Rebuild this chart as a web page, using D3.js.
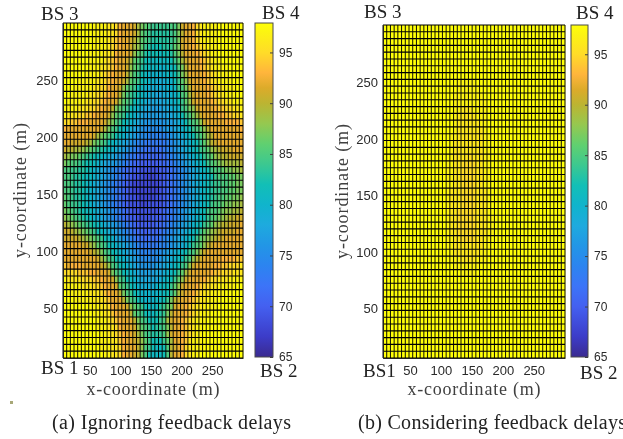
<!DOCTYPE html>
<html><head><meta charset="utf-8">
<script src="https://cdnjs.cloudflare.com/ajax/libs/d3/7.8.5/d3.min.js"></script>
<style>html,body{margin:0;padding:0;background:#fff}svg{display:block;filter:blur(0.3px)}</style>
</head><body><svg id="c" width="623" height="439"></svg>
<script>
// Cell values: each char is a base-36 offset above 65 (x = 98, r = 92, f = 80, 5 = 70)
const gridA = [
"xxxxxxx xwwwwvv usrrrqo mlkjjjj jkkmqrr suvwwww xxxxxxx",
"xxxxxxx xwwwwvv usrrrqo lkjiiii ijkmprr suvwwww xxxxxxx",
"xxxxxxx xwwwwvu tsrrqpn lkjiiii ijkmqrr suvwwww xxxxxxx",
"xxxxxxx xwwwwvu tsrrqon ljihhhi ijlmqrr stuvwww xxxxxxx",
"xxxxxxx wwwwvvu srrrqnl kihhhgh hikmprr rstuvww xxxxxxx",
"xxxxxxx wwwwvut srrqolk jhggggg ghjloqr rrstuvw wxxxxxx",
"xxxxxxx wwwvvut srrqnlk ihgggff gghkmpr rrstuvw wwxxxxx",
"xxxxxxw wwwvuts rrrpmkj hgfffff gghjmor rrrstuv wwwxxxx",
"xxxxwww wwvvuts rrqolkj hgffeee ffhjlnq rrrstuv wwwwxxx",
"xxxwwww wvvuusr rqnlkjh gfeeeee ffgjkmp rrrrstu vvwwwxx",
"xxwwwww vvuutsr rpmkjih gfeedde effhklo qrrrstu vvwwwxx",
"xwwwwwv vuutsrr qnlkjhg feddddd effhjln qrrrrst uuvvwww",
"wwwwvvv uutsrrp mlkjhgf eddcccd deffjkm nqrrrrs ttuuvvw",
"wvvvuut tsrrrqn lkjhgfe dcccccc ddefhjk moqrrrr ssttuuv",
"uuttsss rrrrqom kjhgfed cbbbbbb ccdefhj klnqrrr rrsssst",
"srrrrrr rrrqomk jhgfedc baaaaab ccdefgh jklnprr rrrrrrs",
"rrrrrrr rqomlkj hgfedcb aa99999 abcdefg hjkmopr rrrrrrr",
"rrqqqqp omlkjhg fedcba9 9888888 9abcdef ghjlnpq rrrrrrr",
"qppoonm lkjihgf edcba98 8777778 9abcdef ghjklno pqqqrrr",
"onmmlkj ihggfed cba9887 6666667 89abcde fghjkln oppqqqq",
"mlkkjih hgfedcc ba98766 5555566 789abcd efghjkl mnoooop",
"kkjjiih gfedcba 9876655 4444455 6789abc defghjk klmmnno",
"kkjiihg gfedcba 9876544 4333445 6789abc deffghj kkkllmm",
"kkjiihg fedcba9 8765433 3333345 6789abc defghij jkkllmm",
"kkjiihg fedcba9 8765433 3333345 6789abc defghij jkkllmm",
"lkjiihg fedcba9 8765443 3333445 6789abc defghij kkllmmn",
"lkjjihg fedcba9 8765444 3344445 6789abc defghjk klmmnno",
"mlkjihg gfedcba 9876544 4444456 789abcd efghjkk lmnnoop",
"nmlkjih gfedcba 9876554 4445556 789abcd efghjkl mnoppqq",
"ponmlkj ihgfedc ba98765 5555667 89abcde fghjkln oppqqqr",
"qqponml kjhgfed cba9876 6566678 9abcdef ghjlmno pqqqqrr",
"qqqqpon mlkjhgf dcba987 7677789 abcdefg hjlmnop qqrrrrr",
"rrrrrqq onlkjhg fedcba9 8888899 abcdefh jklnpqr rrrrrrr",
"rrrrrrr qpomkjh gfedcba 9999aab cdefghj kmoqrrr rrrrrrr",
"rrrrrrr rrqomkj hgfedcb aaaaabc defghjk npqrrrr rsssstt",
"trsssrr rrrqpnk jhgfedc bbbbccd efghjkn qrrrrrs sttuuuv",
"uuuuttt ssrrrqm kjhgfed ccccdde fghjloq rrrrrst tuuuvvv",
"wvvvvuu uttsrrq nkjhgfe dddddef ghjlnqr rrrstuu vvvwwww",
"wwwwwvv vuutsrr qlkjhgf eeeefgg hjlnqrr rstuuvv wwwwwxx",
"xwwwwww vvvutsr rpmkjhg fffffgg hjloqrr stuvvww wwxxxxx",
"xxxwwww wvvvutr rrpmkjh gfffggh jmpqrrs tuvvwww xxxxxxx",
"xxxxxxx wwwvvus rrrqnlk jhgggij lmqrrst uvvwwww xxxxxxx",
"xxxxxxx xwwwvvt srrrplk jhgghij mprrrst uvwwwxx xxxxxxx",
"xxxxxxx xxwwwvu tsrrrpm kjhhhjk oqrrstu vwwwxxx xxxxxxx",
"xxxxxxx xxwwwvv usrrrqn lkjhijk mprrstu vwwxxxx xxxxxxx",
"xxxxxxx xxxwwvv utsrrqo mkjiijk nqrrstu vwwxxxx xxxxxxx",
"xxxxxxx xxxwwwv vtsrrqp nljhhhj lorrstv wwwxxxx xxxxxxx",
"xxxxxxx xxxwwwv vusrrrp nkjhggh kpqrsuv wwwxxxx xxxxxxx",
"xxxxxxx xxxxwwv vusrrqp mkhgggh kprrsuv wwxxxxx xxxxxxx"
];
const gridB = [
"xxxxxxx xxxxxxx xxxxxxx xxxxxxx xxxxxxx xxxxxxx xxxxxxx",
"xxxxxxx xxxxxxx xxxxxxx xxxxxxx xxxxxxx xxxxxxx xxxxxxx",
"xxxxxxx xxxxxxx xxxxxxx xxxxxxx xxxxxxx xxxxxxx xxxxxxx",
"xxxxxxx xxxxxxx xxxxxxx xxxxxxx xxxxxxx xxxxxxx xxxxxxx",
"xxxxxxx xxxxxxx xxxxxxx xxxxxxx xxxxxxx xxxxxxx xxxxxxx",
"xxxxxxx xxxxxxx xxxxxxx xxxxxxx xxxxxxx xxxxxxx xxxxxxx",
"xxxxxxx xxxxxxx xxxxxxx xxxxxxx xxxxxxx xxxxxxx xxxxxxx",
"xxxxxxx xxxxxxx xxxxxxx xxxxxxx xxxxxxx xxxxxxx xxxxxxx",
"xxxxxxx xxxxxxx xxxxxxw wwwwxxx xxxxxxx xxxxxxx xxxxxxx",
"xxxxxxx xxxxxxx xxxxxxw wwwwwxx xxxxxxx xxxxxxx xxxxxxx",
"xxxxxxx xxxxxxx xxxxxww wwwwwwx xxxxxxx xxxxxxx xxxxxxx",
"xxxxxxx xxxxxxx xxxxxww wwwwwww xxxxxxx xxxxxxx xxxxxxx",
"xxxxxxx xxxxxxx xxxxxww vvvwwww xxxxxxx xxxxxxx xxxxxxx",
"xxxxxxx xxxxxxx xxxxxwv vvvvwww xxxxxxx xxxxxxx xxxxxxx",
"xxxxxxx xxxxxxx xxxxxwv vvvvvww xxxxxxx xxxxxxx xxxxxxx",
"xxxxxxx xxxxxxx xxxxxwv vvvvvvw xxxxxxx xxxxxxx xxxxxxx",
"xxxxxxx xxxxxxx xxxxwwv vvvvvvw wxxxxxx xxxxxxx xxxxxxx",
"xxxxxxx xxxxxxx xxxxwvv vvvvvvw wxxxxxx xxxxxxx xxxxxxx",
"xxxxxxx xxxxxxx xxxxwvv vvvvvvw wxxxxxx xxxxxxx xxxxxxx",
"xxxxxxx xxxxxxx xxxxwvv vvuvvvw wxxxxxx xxxxxxx xxxxxxx",
"xxxxxxx xxxxxxx xxxwwvv uuuuvvw wxxxxxx xxxxxxx xxxxxxx",
"xxxxxxx xxxxxxx xxxwwvv uuuuvvw wxxxxxx xxxxxxx xxxxxxx",
"xxxxxxx xxxxxxx xxxwwvv uuuuvvw wxxxxxx xxxxxxx xxxxxxx",
"xxxxxxx xxxxxxx xxxwwvv uuuuvvw wxxxxxx xxxxxxx xxxxxxx",
"xxxxxxx xxxxxxx xxxwvvv uuuuvvv wxxxxxx xxxxxxx xxxxxxx",
"xxxxxxx xxxxxxx xxxwvvv uuuuvvv wxxxxxx xxxxxxx xxxxxxx",
"xxxxxxx xxxxxxx xxxwvvv uuuuvvv wxxxxxx xxxxxxx xxxxxxx",
"xxxxxxx xxxxxxx xxxwvvu uuuuvvv wxxxxxx xxxxxxx xxxxxxx",
"xxxxxxx xxxxxxx xxxwvvu uuuuvvv wwxxxxx xxxxxxx xxxxxxx",
"xxxxxxx xxxxxxx xxxwvvu uuuuvvv wwxxxxx xxxxxxx xxxxxxx",
"xxxxxxx xxxxxxx xxxwvvu uuuuvvv wwxxxxx xxxxxxx xxxxxxx",
"xxxxxxx xxxxxxx xxxwwvv uuuuvvw wxxxxxx xxxxxxx xxxxxxx",
"xxxxxxx xxxxxxx xxxwwvv vvvvvvw wxxxxxx xxxxxxx xxxxxxx",
"xxxxxxx xxxxxxx xxxxwvv vvvvvww xxxxxxx xxxxxxx xxxxxxx",
"xxxxxxx xxxxxxx xxxxwww vvvvwww xxxxxxx xxxxxxx xxxxxxx",
"xxxxxxx xxxxxxx xxxxxww wwwwwxx xxxxxxx xxxxxxx xxxxxxx",
"xxxxxxx xxxxxxx xxxxxxx wwwwxxx xxxxxxx xxxxxxx xxxxxxx",
"xxxxxxx xxxxxxx xxxxxxx xxxxxxx xxxxxxx xxxxxxx xxxxxxx",
"xxxxxxx xxxxxxx xxxxxxx xxxxxxx xxxxxxx xxxxxxx xxxxxxx",
"xxxxxxx xxxxxxx xxxxxxx xxxxxxx xxxxxxx xxxxxxx xxxxxxx",
"xxxxxxx xxxxxxx xxxxxxx xxxxxxx xxxxxxx xxxxxxx xxxxxxx",
"xxxxxxx xxxxxxx xxxxxxx xxxxxxx xxxxxxx xxxxxxx xxxxxxx",
"xxxxxxx xxxxxxx xxxxxxx xxxxxxx xxxxxxx xxxxxxx xxxxxxx",
"xxxxxxx xxxxxxx xxxxxxx xxxxxxx xxxxxxx xxxxxxx xxxxxxx",
"xxxxxxx xxxxxxx xxxxxxx xxxxxxx xxxxxxx xxxxxxx xxxxxxx",
"xxxxxxx xxxxxxx xxxxxxx xxxxxxx xxxxxxx xxxxxxx xxxxxxx",
"xxxxxxx xxxxxxx xxxxxxx xxxxxxx xxxxxxx xxxxxxx xxxxxxx",
"xxxxxxx xxxxxxx xxxxxxx xxxxxxx xxxxxxx xxxxxxx xxxxxxx",
"xxxxxxx xxxxxxx xxxxxxx xxxxxxx xxxxxxx xxxxxxx xxxxxxx"
];
const xTicks = [50,100,150,200,250];
const yTicks = [50,100,150,200,250];
const cbTicks = [65,70,75,80,85,90,95];
const colorStops = [65,67,70,72,74,76,78,80,82,84,86,88,90,91.5,93,95,97,97.9];
const colorHex = ["#3a2a90","#3c3cc8","#4460f0","#3c74f8","#2c84f0","#2296e6","#1eaade","#10b4cc","#12bfb6","#3cc890","#60d070","#95c850","#bcb432","#dcab2a","#ffb53c","#ffdc28","#fcf412","#ffff08"];
const xLabel = "x-coordinate (m)", yLabel = "y-coordinate (m)";
const captionA = "(a) Ignoring feedback delays", captionB = "(b) Considering feedback delays";

const color = d3.scaleLinear().domain(colorStops).range(colorHex).clamp(true);
const decode = g => g.map(s => Array.from(s.replace(/ /g,""), ch => 65 + parseInt(ch,36)));
const cellEdges = d3.range(50).map(i => 6.5 + 6*i);
const svg = d3.select("#c");
const defs = svg.append("defs");
const serif = "'Liberation Serif',serif", sans = "'Liberation Sans',Arial,sans-serif";

function panel(o){
  const x = d3.scaleLinear().domain([6.5,300.5]).range([o.l,o.r]);
  const y = d3.scaleLinear().domain([6.5,300.5]).range([o.b,o.t]);
  const g = svg.append("g");
  const rows = decode(o.grid);
  const cells = rows.flatMap((row,r)=>row.map((v,c)=>({v,c,r:48-r})));
  g.selectAll("rect.cell").data(cells).join("rect").attr("class","cell")
    .attr("x",d=>x(cellEdges[d.c])).attr("y",d=>y(cellEdges[d.r+1]))
    .attr("width",d=>x(cellEdges[d.c+1])-x(cellEdges[d.c])+0.3)
    .attr("height",d=>y(cellEdges[d.r])-y(cellEdges[d.r+1])+0.3)
    .attr("fill",d=>color(d.v));
  g.selectAll("line.v").data(cellEdges).join("line").attr("class","v")
    .attr("x1",d=>x(d)).attr("x2",d=>x(d)).attr("y1",o.t).attr("y2",o.b)
    .attr("stroke","#000").attr("stroke-width",0.95);
  g.selectAll("line.h").data(cellEdges).join("line").attr("class","h")
    .attr("y1",d=>y(d)).attr("y2",d=>y(d)).attr("x1",o.l).attr("x2",o.r)
    .attr("stroke","#000").attr("stroke-width",1.15);
  const ax = g.append("g").attr("transform",`translate(0,${o.b})`)
    .call(d3.axisBottom(x).tickValues(xTicks).tickSize(0).tickPadding(8));
  const ay = g.append("g").attr("transform",`translate(${o.l},0)`)
    .call(d3.axisLeft(y).tickValues(yTicks).tickSize(0).tickPadding(5));
  [ax,ay].forEach(a=>{a.select(".domain").attr("stroke","#222");
    a.selectAll("text").attr("font-family",sans).attr("font-size",13).attr("fill","#2a2a2a");});
  g.append("text").text(xLabel).attr("x",(o.l+o.r)/2).attr("y",395).attr("text-anchor","middle")
    .attr("font-family",serif).attr("font-size",18).attr("fill","#404040")
    .attr("textLength",133).attr("lengthAdjust","spacing");
  g.append("text").text(yLabel).attr("transform",`translate(${o.yl},${(o.t+o.b)/2}) rotate(-90)`)
    .attr("text-anchor","middle").attr("font-family",serif).attr("font-size",18).attr("fill","#404040")
    .attr("textLength",135).attr("lengthAdjust","spacing");

  // colour bar
  const cy = d3.scaleLinear().domain([65,97.9]).range([o.b-1,o.t]);
  const gid = "cb"+o.cl;
  defs.append("linearGradient").attr("id",gid).attr("x1",0).attr("x2",0).attr("y1",1).attr("y2",0)
    .selectAll("stop").data(colorStops).join("stop")
    .attr("offset",d=>(d-65)/32.9).attr("stop-color",d=>color(d));
  g.append("rect").attr("x",o.cl).attr("y",o.t).attr("width",o.cr-o.cl).attr("height",o.b-o.t-1)
    .attr("fill",`url(#${gid})`).attr("stroke","#4a4a4a");
  const cb = g.append("g").attr("transform",`translate(${o.cr},0)`)
    .call(d3.axisRight(cy).tickValues(cbTicks).tickSize(-3).tickPadding(6));
  cb.select(".domain").remove();
  cb.selectAll("line").attr("stroke","#404040");
  cb.selectAll("text").attr("font-family",sans).attr("font-size",12).attr("fill","#2a2a2a");
  o.bs.forEach(b=>g.append("text").text(b[0]).attr("x",b[1]).attr("y",b[2]).attr("font-family",serif)
    .attr("font-size",19).attr("fill","#222"));
  g.append("text").text(o.caption).attr("x",o.capX).attr("y",429).attr("font-family",serif)
    .attr("font-size",20).attr("fill","#222").attr("textLength",o.capW).attr("lengthAdjust","spacing");
}
panel({grid:gridA,l:63,r:243,t:23,b:358,cl:255,cr:273,yl:26,capX:52,capW:239,caption:captionA,
  bs:[["BS 3",41,20],["BS 4",262,19],["BS 1",41,374],["BS 2",260,377]]});
panel({grid:gridB,l:383,r:565,t:25,b:358,cl:571,cr:588,yl:348,capX:358,capW:268,caption:captionB,
  bs:[["BS 3",364,18],["BS 4",576,19],["BS1",363,377],["BS 2",580,379]]});
svg.append("rect").attr("x",10).attr("y",401).attr("width",3).attr("height",3).attr("fill","#a8a878");
</script></body></html>
